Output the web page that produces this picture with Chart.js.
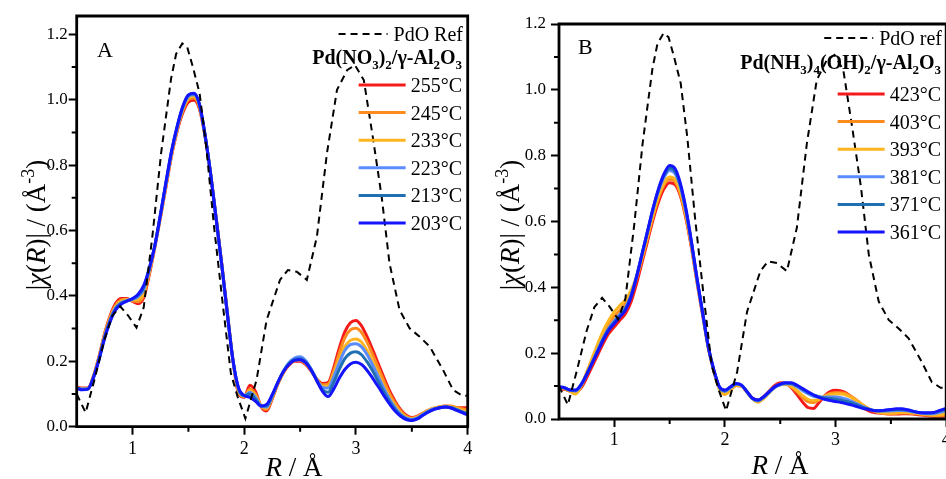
<!DOCTYPE html>
<html><head><meta charset="utf-8">
<script src="https://cdn.jsdelivr.net/npm/chart.js@4"></script>
<style>
html,body{margin:0;padding:0;width:946px;height:479px;overflow:hidden;background:#fff;}
#ca{position:absolute;left:0;top:0;}
#cb{position:absolute;left:473px;top:0;}
</style></head><body>
<canvas id="ca" width="480" height="479"></canvas>
<canvas id="cb" width="500" height="479"></canvas>
<script>
// ---------- data ----------
const R = [0.50,0.55,0.60,0.65,0.70,0.75,0.80,0.85,0.90,0.95,
1.00,1.05,1.10,1.15,1.20,1.25,1.30,1.35,1.40,1.45,
1.50,1.55,1.60,1.65,1.70,1.75,1.80,1.85,1.90,1.95,
2.00,2.05,2.10,2.15,2.20,2.25,2.30,2.35,2.40,2.45,
2.50,2.55,2.60,2.65,2.70,2.75,2.80,2.85,2.90,2.95,
3.00,3.05,3.10,3.15,3.20,3.25,3.30,3.35,3.40,3.45,
3.50,3.55,3.60,3.65,3.70,3.75,3.80,3.85,3.90,3.95,4.00];

const refR = [0.50,0.58,0.66,0.75,0.82,0.89,0.96,1.035,1.10,1.18,1.255,1.345,1.39,1.445,1.49,1.54,1.60,1.66,1.73,1.81,1.88,1.94,2.01,2.11,2.20,2.32,2.39,2.47,2.56,2.65,2.74,2.83,2.92,2.99,3.07,3.15,3.23,3.30,3.39,3.48,3.57,3.66,3.78,3.87,3.95,4.00];
const refChi = [0.100,0.043,0.145,0.268,0.340,0.368,0.340,0.303,0.365,0.590,0.835,1.065,1.140,1.172,1.160,1.100,1.020,0.855,0.610,0.367,0.163,0.092,0.025,0.143,0.326,0.449,0.479,0.474,0.449,0.581,0.836,1.030,1.090,1.106,1.060,0.887,0.703,0.500,0.357,0.301,0.275,0.245,0.173,0.112,0.095,0.095];

// Panel A: Pd(NO3)2/γ-Al2O3
const labelsA = ['255°C','245°C','233°C','223°C','213°C','203°C'];
const a255 = [0.122,0.118,0.118,0.155,0.215,0.285,0.340,0.378,0.392,0.392,
0.383,0.376,0.395,0.465,0.550,0.640,0.735,0.830,0.905,0.960,
0.993,0.998,0.970,0.885,0.770,0.635,0.495,0.345,0.200,0.100,
0.090,0.127,0.108,0.062,0.048,0.085,0.130,0.165,0.188,0.200,
0.200,0.190,0.170,0.145,0.132,0.135,0.180,0.240,0.290,0.318,
0.325,0.308,0.275,0.235,0.192,0.150,0.110,0.078,0.052,0.035,
0.028,0.032,0.042,0.050,0.055,0.058,0.060,0.060,0.058,0.058,0.058];
const a245 = [0.120,0.117,0.117,0.153,0.212,0.282,0.336,0.372,0.388,0.390,
0.385,0.382,0.402,0.470,0.552,0.643,0.740,0.835,0.910,0.966,
1.000,1.005,0.975,0.888,0.770,0.633,0.493,0.343,0.200,0.105,
0.092,0.115,0.100,0.063,0.053,0.088,0.132,0.166,0.190,0.202,
0.203,0.192,0.171,0.144,0.128,0.130,0.170,0.225,0.272,0.296,
0.301,0.288,0.258,0.220,0.180,0.140,0.102,0.072,0.048,0.032,
0.026,0.031,0.042,0.051,0.057,0.061,0.064,0.063,0.059,0.055,0.051];
const a233 = [0.119,0.116,0.116,0.152,0.210,0.279,0.332,0.368,0.384,0.388,
0.388,0.390,0.410,0.475,0.553,0.645,0.743,0.838,0.913,0.970,
1.005,1.010,0.978,0.888,0.770,0.632,0.492,0.342,0.200,0.108,
0.093,0.110,0.095,0.064,0.057,0.090,0.133,0.167,0.191,0.204,
0.206,0.194,0.172,0.142,0.124,0.124,0.160,0.205,0.245,0.264,
0.268,0.258,0.232,0.198,0.162,0.124,0.090,0.064,0.042,0.029,
0.024,0.029,0.040,0.050,0.056,0.060,0.062,0.061,0.056,0.050,0.045];
const a223 = [0.118,0.115,0.116,0.151,0.208,0.276,0.328,0.364,0.380,0.386,
0.390,0.398,0.420,0.480,0.555,0.648,0.746,0.841,0.916,0.975,
1.010,1.015,0.982,0.889,0.770,0.631,0.491,0.341,0.200,0.112,
0.094,0.105,0.090,0.064,0.060,0.093,0.135,0.170,0.196,0.210,
0.214,0.202,0.176,0.143,0.120,0.118,0.152,0.195,0.233,0.251,
0.254,0.244,0.220,0.188,0.153,0.117,0.085,0.058,0.038,0.026,
0.022,0.027,0.038,0.048,0.055,0.059,0.061,0.059,0.053,0.046,0.040];
const a213 = [0.118,0.114,0.115,0.150,0.207,0.273,0.325,0.361,0.378,0.385,
0.391,0.402,0.426,0.483,0.555,0.649,0.748,0.843,0.918,0.978,
1.013,1.018,0.984,0.890,0.770,0.631,0.490,0.341,0.200,0.115,
0.095,0.100,0.085,0.063,0.064,0.095,0.135,0.169,0.193,0.206,
0.208,0.198,0.174,0.141,0.113,0.105,0.135,0.175,0.208,0.225,
0.229,0.220,0.198,0.170,0.138,0.106,0.077,0.053,0.035,0.024,
0.020,0.025,0.036,0.046,0.054,0.058,0.060,0.058,0.052,0.045,0.038];
const a203 = [0.117,0.113,0.115,0.150,0.205,0.270,0.322,0.358,0.375,0.384,
0.392,0.405,0.432,0.485,0.555,0.650,0.750,0.845,0.920,0.980,
1.015,1.020,0.985,0.890,0.770,0.630,0.490,0.340,0.200,0.118,
0.095,0.090,0.078,0.063,0.068,0.098,0.135,0.168,0.190,0.203,
0.205,0.195,0.172,0.140,0.108,0.092,0.115,0.148,0.175,0.192,
0.197,0.190,0.172,0.148,0.122,0.095,0.070,0.048,0.032,0.022,
0.019,0.024,0.035,0.045,0.053,0.058,0.060,0.057,0.050,0.043,0.036];

// Panel B: Pd(NH3)4(OH)2/γ-Al2O3
const labelsB = ['423°C','403°C','393°C','381°C','371°C','361°C'];
const b423 = [0.092,0.090,0.085,0.082,0.095,0.125,0.160,0.195,0.230,0.260,
0.280,0.300,0.320,0.355,0.410,0.475,0.540,0.605,0.660,0.700,
0.718,0.712,0.675,0.605,0.515,0.410,0.312,0.215,0.145,0.095,
0.080,0.090,0.102,0.100,0.082,0.063,0.057,0.068,0.085,0.102,
0.110,0.108,0.095,0.075,0.052,0.035,0.032,0.050,0.070,0.083,
0.087,0.085,0.078,0.065,0.050,0.035,0.025,0.020,0.018,0.016,
0.015,0.015,0.016,0.016,0.015,0.013,0.011,0.009,0.008,0.008,0.010];
const b403 = [0.095,0.092,0.085,0.078,0.100,0.140,0.180,0.220,0.258,0.290,
0.312,0.330,0.350,0.380,0.425,0.485,0.550,0.615,0.672,0.712,
0.728,0.720,0.680,0.610,0.520,0.415,0.315,0.218,0.146,0.092,
0.075,0.088,0.103,0.101,0.082,0.062,0.053,0.065,0.083,0.098,
0.106,0.106,0.098,0.083,0.066,0.053,0.050,0.058,0.070,0.078,
0.080,0.080,0.076,0.067,0.055,0.042,0.031,0.023,0.019,0.017,
0.016,0.017,0.018,0.018,0.017,0.015,0.013,0.011,0.010,0.010,0.013];
const b393 = [0.096,0.093,0.084,0.076,0.100,0.142,0.185,0.228,0.268,0.300,
0.325,0.345,0.362,0.390,0.432,0.490,0.555,0.620,0.678,0.718,
0.735,0.727,0.688,0.615,0.523,0.417,0.316,0.218,0.146,0.090,
0.075,0.087,0.102,0.100,0.081,0.060,0.051,0.062,0.080,0.096,
0.104,0.105,0.099,0.087,0.072,0.060,0.056,0.060,0.068,0.074,
0.076,0.076,0.072,0.064,0.053,0.041,0.031,0.024,0.020,0.018,
0.018,0.019,0.020,0.020,0.019,0.017,0.015,0.013,0.012,0.013,0.016];
const b381 = [0.097,0.094,0.087,0.085,0.103,0.136,0.172,0.210,0.246,0.276,
0.298,0.318,0.338,0.375,0.433,0.500,0.568,0.636,0.693,0.735,
0.755,0.745,0.702,0.626,0.528,0.419,0.318,0.218,0.147,0.096,
0.084,0.095,0.106,0.102,0.082,0.061,0.055,0.065,0.081,0.096,
0.104,0.107,0.106,0.098,0.087,0.077,0.069,0.066,0.066,0.067,
0.067,0.065,0.060,0.053,0.045,0.037,0.030,0.026,0.024,0.024,
0.025,0.026,0.026,0.025,0.022,0.019,0.017,0.016,0.017,0.021,0.026];
const b371 = [0.097,0.094,0.088,0.087,0.104,0.135,0.171,0.207,0.243,0.273,
0.294,0.314,0.334,0.372,0.431,0.500,0.569,0.638,0.697,0.740,
0.762,0.752,0.707,0.630,0.530,0.420,0.319,0.218,0.148,0.097,
0.086,0.097,0.107,0.103,0.083,0.062,0.057,0.067,0.082,0.097,
0.105,0.109,0.108,0.101,0.091,0.081,0.073,0.068,0.064,0.062,
0.060,0.057,0.053,0.048,0.042,0.035,0.030,0.026,0.025,0.026,
0.028,0.029,0.029,0.027,0.023,0.020,0.018,0.018,0.020,0.025,0.030];
const b361 = [0.098,0.095,0.088,0.088,0.105,0.135,0.170,0.205,0.240,0.270,
0.290,0.310,0.330,0.370,0.430,0.500,0.570,0.640,0.700,0.745,
0.770,0.760,0.712,0.634,0.533,0.422,0.320,0.219,0.149,0.098,
0.088,0.098,0.108,0.103,0.083,0.063,0.058,0.068,0.083,0.098,
0.106,0.110,0.110,0.103,0.093,0.083,0.073,0.066,0.060,0.056,
0.053,0.050,0.046,0.042,0.037,0.032,0.029,0.025,0.025,0.027,
0.029,0.031,0.031,0.028,0.024,0.020,0.019,0.019,0.021,0.027,0.032];

const yTickStep = 0.2;
const xTickStep = 1;
const yMinorTicks = [0.1,0.3,0.5,0.7,0.9,1.1];
const xMinorTicks = [1.5,2.5,3.5];

// ---------- style ----------
const seriesColors = ['#f41a1a','#ff8a1e','#ffb51f','#5b8cff','#1f6fb2','#1414ff'];
const FONT = '"Liberation Serif","Times New Roman",serif';

function pts(xs, ys){ return xs.map((v,i)=>({x:v, y:ys[i]})); }

function buildDatasets(series, labels){
  const ds = [{label:'PdO', data: pts(refR, refChi), borderColor:'#000', borderWidth:2,
    borderDash:[7,5], tension:0, pointRadius:0}];
  for (let i = series.length-1; i >= 0; i--) {
    ds.push({label: labels[i], data: pts(R, series[i]), borderColor: seriesColors[i],
      borderWidth: 3, cubicInterpolationMode:'monotone', pointRadius:0});
  }
  return ds;
}

function richWidth(ctx, segs){
  let w=0; segs.forEach(s=>{ctx.font=s.f; s.w=ctx.measureText(s.t).width; w+=s.w;}); return w;
}
function drawRich(ctx, segs, x, y, align){
  const w = richWidth(ctx, segs);
  let cx = align==='right' ? x-w : align==='center' ? x-w/2 : x;
  ctx.textAlign='left';
  segs.forEach(s=>{ctx.font=s.f; ctx.fillText(s.t, cx, y+(s.dy||0)); cx+=s.w;});
  return w;
}

const decor = {
  id:'decor',
  afterDatasetsDraw(chart, args, o){
    const {ctx, chartArea:ca} = chart; const x = chart.scales.x, y = chart.scales.y;
    ctx.save();
    ctx.setLineDash([]);
    ctx.strokeStyle='#000'; ctx.lineWidth=2;
    ctx.beginPath();
    yMinorTicks.forEach(v=>{ if(v>y.max) return; const p=y.getPixelForValue(v); ctx.moveTo(ca.left,p); ctx.lineTo(ca.left-5,p); });
    xMinorTicks.forEach(v=>{ const p=x.getPixelForValue(v); ctx.moveTo(p,ca.bottom); ctx.lineTo(p,ca.bottom+5); });
    ctx.stroke();
    ctx.lineWidth=2.8;
    ctx.beginPath();
    ctx.moveTo(ca.left, ca.top); ctx.lineTo(ca.right, ca.top);
    ctx.lineTo(ca.right, ca.bottom); ctx.lineTo(ca.left, ca.bottom);
    ctx.closePath();
    ctx.stroke();
    ctx.restore();
  },
  afterDraw(chart, args, o){
    const {ctx} = chart;
    ctx.save();
    ctx.setLineDash([]);
    ctx.fillStyle='#000'; ctx.textBaseline='alphabetic';
    const n = '27px '+FONT, it = 'italic 27px '+FONT, sup='18px '+FONT;
    drawRich(ctx, [{t:'R',f:it},{t:' / Å',f:n}], o.xTitle[0], o.xTitle[1], 'center');
    ctx.save();
    ctx.translate(o.yTitle[0], o.yTitle[1]); ctx.rotate(-Math.PI/2);
    drawRich(ctx, [{t:'|',f:n},{t:'χ',f:it},{t:'(',f:n},{t:'R',f:it},{t:')|',f:n},{t:' / (Å',f:n},{t:'-3',f:sup,dy:-11},{t:')',f:n}], 0, 0, 'center');
    ctx.restore();
    ctx.font='22px '+FONT; ctx.textAlign='left';
    ctx.fillText(o.panel, o.panelPos[0], o.panelPos[1]);
    const lf = '20px '+FONT;
    const refW = drawRich(ctx, [{t:o.refLabel,f:lf}], o.legRight+1, o.refY+7, 'right');
    ctx.save(); ctx.strokeStyle='#000'; ctx.lineWidth=2; ctx.setLineDash([7,5]);
    ctx.beginPath(); ctx.moveTo(o.legRight+1-refW-55, o.refY); ctx.lineTo(o.legRight+1-refW-6, o.refY); ctx.stroke(); ctx.restore();
    const b='bold 20px '+FONT, bs='bold 13px '+FONT;
    drawRich(ctx, o.heading.map(s=>({t:s[0], f:s[1]?bs:b, dy:s[1]?5:0})), o.legRight, o.headY+7, 'right');
    ctx.font=lf;
    let maxW=0; o.labels.forEach(l=>{maxW=Math.max(maxW, ctx.measureText(l).width);});
    const tx = o.legRight - maxW;
    o.labels.forEach((l,i)=>{
      const yy = o.itemY0 + i*o.itemDy;
      ctx.strokeStyle=seriesColors[i]; ctx.lineWidth=3;
      ctx.beginPath(); ctx.moveTo(tx-52, yy); ctx.lineTo(tx-5, yy); ctx.stroke();
      ctx.font=lf; ctx.textAlign='left'; ctx.fillText(l, tx, yy+7);
    });
    ctx.restore();
  }
};

function makeChart(id, series, labels, geo, deco){
  return new Chart(document.getElementById(id), {
    type:'line',
    data:{datasets: buildDatasets(series, labels)},
    plugins:[decor],
    options:{
      responsive:false, animation:false, devicePixelRatio:1,
      layout:{padding:{left:0, top:geo.top, right:geo.right, bottom:0}},
      plugins:{legend:{display:false}, tooltip:{enabled:false}, decor: deco},
      scales:{
        x:{type:'linear', min:0.5, max:4,
          afterFit:(s)=>{s.height=geo.xh;},
          border:{display:false},
          grid:{display:true, drawOnChartArea:false, drawTicks:true, tickLength:8, tickWidth:2, tickColor:'#000'},
          ticks:{stepSize:xTickStep, includeBounds:false, padding:geo.xpad, color:'#000', font:{family:FONT, size:18}, maxRotation:0,
            callback:(v)=>String(v)}},
        y:{type:'linear', min:0, max:geo.ymax,
          afterFit:(s)=>{s.width=geo.yw;},
          border:{display:false},
          grid:{display:true, drawOnChartArea:false, drawTicks:true, tickLength:8, tickWidth:2, tickColor:'#000'},
          ticks:{stepSize:yTickStep, includeBounds:false, padding:geo.ypad, color:'#000', font:{family:FONT, size:17},
            callback:(v)=>v.toFixed(1)}}
      }
    }
  });
}

makeChart('ca', [a255,a245,a233,a223,a213,a203], labelsA,
  {top:16, right:12.3, xh:52.3, yw:76.7, ymax:1.256, xpad:4, ypad:1},
  {panel:'A', panelPos:[97,57], xTitle:[294,476], yTitle:[45,225],
   refLabel:'PdO Ref', legRight:462, refY:34,
   heading:[['Pd(NO',0],['3',1],[')',0],['2',1],['/γ-Al',0],['2',1],['O',0],['3',1]], headY:57,
   labels:labelsA, itemY0:85, itemDy:27.6});

makeChart('cb', [b423,b403,b393,b381,b371,b361], labelsB,
  {top:24, right:26.8, xh:60, yw:86, ymax:1.2, xpad:2, ypad:5},
  {panel:'B', panelPos:[105,54], xTitle:[307,474], yTitle:[46,225],
   refLabel:'PdO ref', legRight:468, refY:38,
   heading:[['Pd(NH',0],['3',1],[')',0],['4',1],['(OH)',0],['2',1],['/γ-Al',0],['2',1],['O',0],['3',1]], headY:62,
   labels:labelsB, itemY0:94, itemDy:27.6});
</script>
</body></html>
